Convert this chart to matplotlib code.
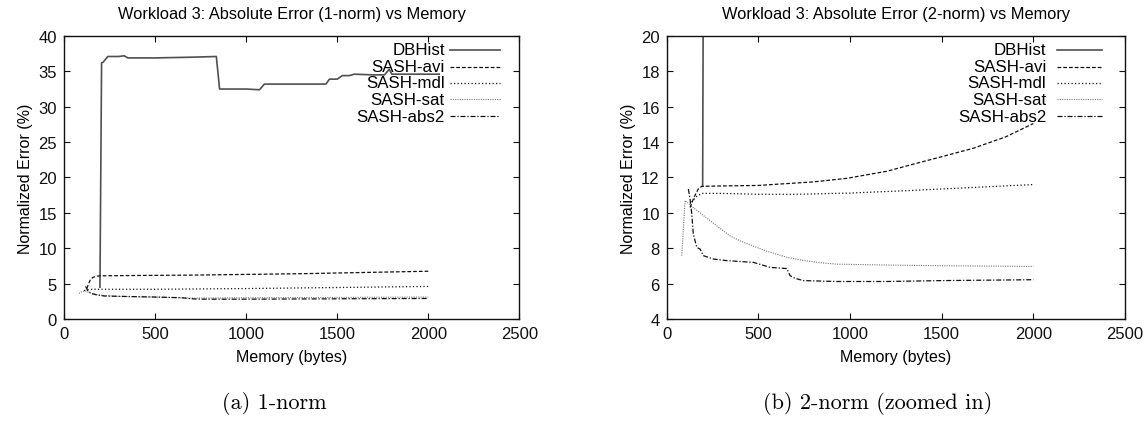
import matplotlib

matplotlib.use("Agg")

import matplotlib.pyplot as plt

# ---- data ----
labels = ["DBHist", "SASH-avi", "SASH-mdl", "SASH-sat", "SASH-abs2"]

# (a) 1-norm
dbhist_x1 = [197, 206, 215, 240, 300, 330, 350, 500, 700, 836, 854, 1000, 1073, 1100, 1300,
             1438, 1457, 1500, 1528, 1566, 1594, 1700, 1760, 1785, 1800, 2060]
dbhist_y1 = [4.5, 36.2, 36.3, 37.1, 37.1, 37.2, 36.9, 36.9, 37.0, 37.1, 32.5, 32.5, 32.4, 33.2, 33.2,
             33.2, 33.9, 33.9, 34.4, 34.4, 34.6, 34.5, 34.5, 35.3, 34.6, 34.6]
avi_x1 = [125, 135, 145, 160, 180, 200, 400, 700, 1000, 1300, 1600, 2000]
avi_y1 = [4.3, 5.0, 5.6, 5.9, 6.05, 6.1, 6.15, 6.2, 6.3, 6.4, 6.55, 6.75]
mdl_x1 = [110, 130, 160, 200, 500, 1000, 1500, 2000]
mdl_y1 = [4.0, 4.15, 4.2, 4.2, 4.2, 4.3, 4.45, 4.6]
sat_x1 = [82, 100, 120, 150, 200, 300, 500, 700, 1000, 1500, 2000]
sat_y1 = [3.6, 3.9, 3.95, 3.6, 3.35, 3.2, 3.1, 2.95, 3.0, 3.05, 3.1]
abs2_x1 = [118, 130, 150, 180, 220, 300, 500, 650, 700, 750, 1000, 1500, 2000]
abs2_y1 = [4.6, 4.0, 3.6, 3.4, 3.25, 3.2, 3.1, 3.0, 2.85, 2.8, 2.8, 2.85, 2.9]

# (b) 2-norm, zoomed in
dbhist_x2 = [196, 206, 2060]
dbhist_y2 = [11.5, 45.0, 45.0]
avi_x2 = [127, 150, 172, 191, 300, 500, 618, 800, 982, 1200, 1344, 1491, 1672, 1850, 2000]
avi_y2 = [10.3, 10.9, 11.35, 11.5, 11.52, 11.55, 11.63, 11.75, 11.95, 12.35, 12.75, 13.15, 13.65, 14.3, 15.05]
mdl_x2 = [136, 160, 191, 300, 500, 700, 800, 1000, 1300, 1600, 2000]
mdl_y2 = [10.6, 10.9, 11.1, 11.1, 11.05, 11.05, 11.07, 11.12, 11.25, 11.4, 11.6]
sat_x2 = [82, 100, 145, 200, 250, 300, 345, 400, 471, 550, 655, 750, 850, 927, 1200, 1500, 2000]
sat_y2 = [7.58, 10.7, 10.3, 9.85, 9.45, 9.05, 8.7, 8.42, 8.12, 7.82, 7.49, 7.3, 7.17, 7.1, 7.05, 7.01, 6.97]
abs2_x2 = [118, 127, 136, 145, 164, 182, 200, 255, 327, 473, 564, 655, 673, 700, 745, 927, 1200, 1500, 2000]
abs2_y2 = [11.35, 10.8, 10.0, 8.8, 8.05, 7.95, 7.58, 7.39, 7.3, 7.2, 6.92, 6.85, 6.45, 6.3, 6.17, 6.12, 6.12, 6.17, 6.22]

styles = [
    dict(color="#505050", linestyle="-", linewidth=1.2),
    dict(color="#111111", linestyle=(0, (3, 1.6)), linewidth=0.9),
    dict(color="#111111", linestyle=(0, (1, 1.8)), linewidth=0.9),
    dict(color="#777777", linestyle=(0, (1, 1.1)), linewidth=0.8),
    dict(color="#111111", linestyle=(0, (4, 1.5, 1, 1.5)), linewidth=0.9),
]

plt.rcParams["font.family"] = ["Liberation Sans", "DejaVu Sans"]

fig = plt.figure(figsize=(11.44, 4.35), dpi=100)
ax1 = fig.add_axes([0.056, 0.2644, 0.398, 0.6506])
ax2 = fig.add_axes([0.5828, 0.2644, 0.4006, 0.6506])


def draw_panel(ax, series, title, ylim, yticks, leg_text_x, leg_line):
    for (x, y), label, st in zip(series, labels, styles):
        ax.plot(x, y, label=label, **st)
    ax.set_xlim(0, 2500)
    ax.set_ylim(*ylim)
    ax.set_xticks([0, 500, 1000, 1500, 2000, 2500])
    ax.set_yticks(yticks)
    ax.tick_params(direction="in", top=True, right=True, length=4, width=0.8,
                   labelsize=12, pad=5, colors="#111111")
    for sp in ax.spines.values():
        sp.set_linewidth(1.0)
        sp.set_color("#111111")
    ax.set_title(title, fontsize=11.8, pad=13)
    ax.set_xlabel("Memory (bytes)", fontsize=11.5, labelpad=6)
    ax.set_ylabel("Normalized Error (%)", fontsize=11.5, labelpad=4)

    # gnuplot-style key: text right-aligned, sample to its right
    rows = [0.951, 0.892, 0.834, 0.776, 0.717]
    for ypos, label, st in zip(rows, labels, styles):
        ax.text(leg_text_x, ypos, label, transform=ax.transAxes, ha="right",
                va="center", fontsize=12.2)
        ax.plot(leg_line, [ypos, ypos], transform=ax.transAxes, clip_on=False, **st)


draw_panel(ax1,
           [(dbhist_x1, dbhist_y1), (avi_x1, avi_y1), (mdl_x1, mdl_y1),
            (sat_x1, sat_y1), (abs2_x1, abs2_y1)],
           "Workload 3: Absolute Error (1-norm) vs Memory",
           (0, 40), range(0, 41, 5), 0.836, [0.848, 0.958])
draw_panel(ax2,
           [(dbhist_x2, dbhist_y2), (avi_x2, avi_y2), (mdl_x2, mdl_y2),
            (sat_x2, sat_y2), (abs2_x2, abs2_y2)],
           "Workload 3: Absolute Error (2-norm) vs Memory",
           (4, 20), range(4, 21, 2), 0.828, [0.851, 0.949])

fig.text(0.2395, 0.073, "(a) 1-norm", ha="center", va="center", fontsize=16,
         family=["cmr10", "DejaVu Serif"])
fig.text(0.7675, 0.073, "(b) 2-norm (zoomed in)", ha="center", va="center", fontsize=16,
         family=["cmr10", "DejaVu Serif"])

fig.savefig("out.png", dpi=100, facecolor="white")
